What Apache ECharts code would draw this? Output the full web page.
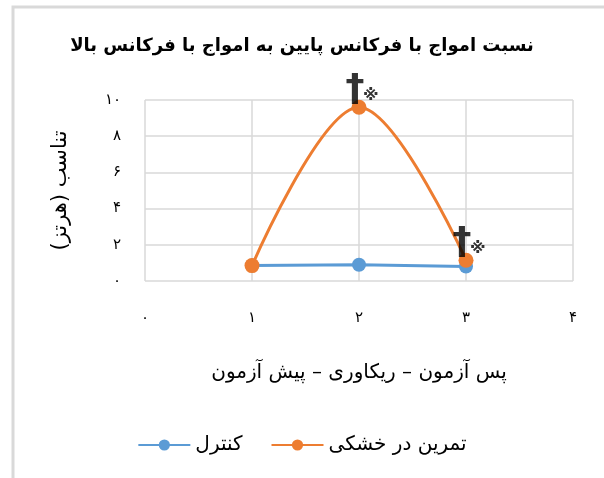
<!DOCTYPE html>
<html>
<head>
<meta charset="utf-8">
<script src="https://cdn.jsdelivr.net/npm/echarts@6/dist/echarts.min.js"></script>
<style>
  html, body { margin: 0; padding: 0; background: #fff; }
  #chart { width: 604px; height: 478px; }
</style>
</head>
<body>
<div id="chart"></div>
<script>
// داده‌ها
var xValues = [1, 2, 3]
var controlValues = [0.85, 0.9, 0.8]
var tamrinValues = [0.85, 9.6, 1.15]
var signX = [2, 3] // نقاط دارای علامت معنی‌داری
var signY = [9.6, 1.15]
var faDigits = ['۰', '۱', '۲', '۳', '۴', '۵', '۶', '۷', '۸', '۹']
var seriesNames = ['کنترل', 'تمرین در خشکی']

function toFa(v) {
  return String(v).replace(/[0-9]/g, function (d) { return faDigits[+d] })
}

var font = 'DejaVu Sans'
var chart = echarts.init(document.getElementById('chart'))

var signData = signX.map(function (x, i) { return [x, signY[i]] })

chart.setOption({
  animation: false,
  textStyle: { fontFamily: font },
  title: {
    text: 'نسبت امواج با فرکانس پایین به امواج با فرکانس بالا',
    left: 'center',
    top: 32,
    textStyle: { fontSize: 18, fontWeight: 'bold', color: '#000', fontFamily: font }
  },
  graphic: [{
    type: 'rect',
    shape: { x: 13, y: 7, width: 600, height: 480 },
    style: { fill: 'none', stroke: '#d9d9d9', lineWidth: 3 },
    silent: true
  }],
  legend: {
    data: seriesNames,
    bottom: 18,
    left: 'center',
    itemWidth: 52,
    itemHeight: 14,
    itemGap: 28,
    textStyle: { fontSize: 20, color: '#000', fontFamily: font }
  },
  grid: { left: 145, right: 31, top: 100, bottom: 197 },
  xAxis: {
    type: 'value',
    min: 0,
    max: 4,
    interval: 1,
    name: '\u200Fپس آزمون – ریکاوری – پیش آزمون\u200F',
    nameLocation: 'middle',
    nameGap: 82,
    nameTextStyle: { fontSize: 20, color: '#000', fontFamily: font },
    axisLine: { show: false },
    axisTick: { show: false },
    axisLabel: { margin: 30, fontSize: 15, color: '#000', formatter: toFa },
    splitLine: { show: true, lineStyle: { color: '#d9d9d9', width: 1.5 } }
  },
  yAxis: {
    type: 'value',
    min: 0,
    max: 10,
    interval: 2,
    name: '\u200Fتناسب (هرتز)\u200F',
    nameLocation: 'middle',
    nameRotate: 90,
    nameGap: 74,
    nameTextStyle: { fontSize: 21, color: '#000', fontFamily: font },
    axisLine: { show: false },
    axisTick: { show: false },
    axisLabel: { margin: 24, fontSize: 15, color: '#000', formatter: toFa },
    splitLine: { show: true, lineStyle: { color: '#d9d9d9', width: 1.5 } }
  },
  series: [
    {
      name: seriesNames[0],
      type: 'line',
      data: xValues.map(function (x, i) { return [x, controlValues[i]] }),
      symbol: 'circle',
      symbolSize: 14,
      itemStyle: { color: '#5B9BD5' },
      lineStyle: { color: '#5B9BD5', width: 3 },
      z: 2
    },
    {
      name: seriesNames[1],
      type: 'line',
      data: xValues.map(function (x, i) { return [x, tamrinValues[i]] }),
      smooth: 0.35,
      symbol: 'circle',
      symbolSize: 15,
      itemStyle: { color: '#ED7D31' },
      lineStyle: { color: '#ED7D31', width: 3 },
      z: 3
    },
    {
      type: 'scatter',
      data: signData,
      symbolSize: 0,
      silent: true,
      z: 5,
      label: {
        show: true,
        position: 'top',
        distance: 2,
        offset: [-4, 4],
        formatter: '†',
        fontSize: 38,
        fontWeight: 'bold',
        color: '#000'
      }
    },
    {
      type: 'scatter',
      data: signData,
      symbolSize: 0,
      silent: true,
      z: 5,
      label: {
        show: true,
        position: 'right',
        offset: [-1, -11],
        formatter: '※',
        fontSize: 16,
        fontWeight: 'bold',
        color: '#000'
      }
    }
  ]
})
</script>
</body>
</html>
